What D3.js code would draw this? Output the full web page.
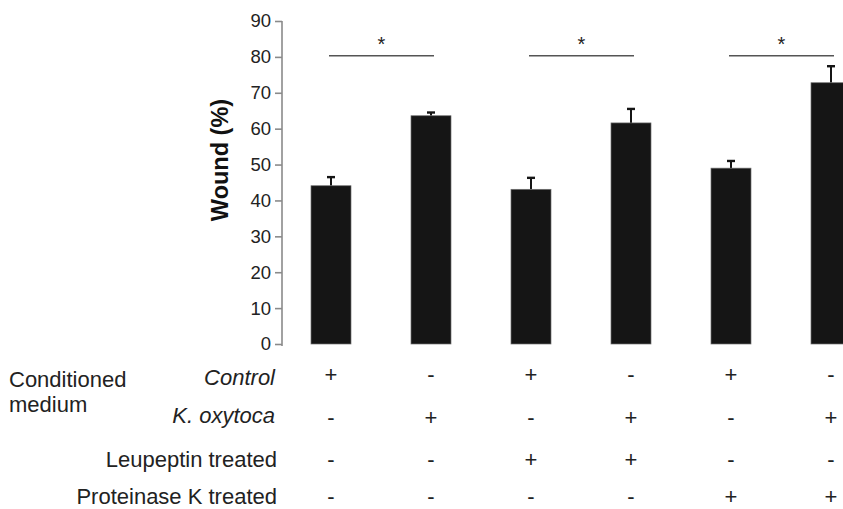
<!DOCTYPE html>
<html>
<head>
<meta charset="utf-8">
<script src="https://cdn.jsdelivr.net/npm/d3@7"></script>
<style>
  body { margin: 0; background: #fff; }
  svg { display: block; font-family: "Liberation Sans", Arial, sans-serif; }
</style>
</head>
<body>
<div id="chart"></div>
<script>
/*
 * Data
 *****************************/
const groups = ["c1", "c2", "c3", "c4", "c5", "c6"];
const wound = [44.1, 63.6, 43.1, 61.6, 49.0, 72.8];
const woundErr = [2.4, 0.9, 3.2, 3.9, 2.0, 4.6];
const sigPairs = [[0, 1], [2, 3], [4, 5]];
const sigLevel = 80.3;
const yTicks = [0, 10, 20, 30, 40, 50, 60, 70, 80, 90];

const rowLabels = ["Control", "K. oxytoca", "Leupeptin treated", "Proteinase K treated"];
const controlRow = ["+", "-", "+", "-", "+", "-"];
const oxytocaRow = ["-", "+", "-", "+", "-", "+"];
const leupeptinRow = ["-", "-", "+", "+", "-", "-"];
const proteinaseRow = ["-", "-", "-", "-", "+", "+"];

/*
 * Parameters
 *****************************/
const width = 843, height = 509;
const axisX = 282, yTop = 21, yBottom = 344;

const svg = d3.select("#chart").append("svg")
  .attr("width", width)
  .attr("height", height);

const x = d3.scaleBand()
  .domain(groups)
  .range([281, 881])
  .paddingInner(0.6)
  .paddingOuter(0.3);

const y = d3.scaleLinear()
  .domain([0, 90])
  .range([yBottom, yTop]);

const cx = i => x(groups[i]) + x.bandwidth() / 2;

// y axis
const yAxis = d3.axisLeft(y).tickValues(yTicks).tickSize(7).tickPadding(4);
const axisG = svg.append("g")
  .attr("transform", `translate(${axisX},0)`)
  .call(yAxis);
axisG.select(".domain").attr("stroke", "#8a8a8a").attr("stroke-width", 1.6)
  .attr("d", `M0,${yTop}V${yBottom + 2}`);
axisG.selectAll(".tick line").attr("stroke", "#8a8a8a").attr("stroke-width", 1.6);
axisG.selectAll(".tick text")
  .attr("fill", "#222")
  .style("font-size", "18.5px")
  .style("font-family", "'Liberation Sans', Arial, sans-serif");

// axis title, a bit above the axis middle like the original
svg.append("text")
  .attr("transform", "translate(228,160) rotate(-90)")
  .attr("text-anchor", "middle")
  .style("font-size", "23.5px")
  .style("font-weight", "bold")
  .attr("fill", "#111")
  .text("Wound (%)");

// error bars (behind bars)
const errG = svg.append("g").attr("stroke", "#151515").attr("stroke-width", 2);
wound.forEach((v, i) => {
  errG.append("line")
    .attr("x1", cx(i)).attr("x2", cx(i))
    .attr("y1", y(v)).attr("y2", y(v + woundErr[i]));
  errG.append("line")
    .attr("x1", cx(i) - 4).attr("x2", cx(i) + 4)
    .attr("y1", y(v + woundErr[i])).attr("y2", y(v + woundErr[i]))
    .attr("stroke-width", 2.4);
});

// bars
svg.append("g").selectAll("rect")
  .data(wound)
  .enter()
  .append("rect")
  .attr("x", (d, i) => x(groups[i]))
  .attr("y", d => y(d))
  .attr("width", x.bandwidth())
  .attr("height", d => y(0) - y(d))
  .attr("fill", "#151515")
  .attr("stroke", "#6f6f6f")
  .attr("stroke-width", 0.7);

// significance lines + stars
const sigG = svg.append("g");
sigPairs.forEach(p => {
  const x1 = cx(p[0]) - 2, x2 = cx(p[1]) + 3;
  sigG.append("line")
    .attr("x1", x1).attr("x2", x2)
    .attr("y1", y(sigLevel)).attr("y2", y(sigLevel))
    .attr("stroke", "#555").attr("stroke-width", 1.4);
  sigG.append("text")
    .attr("x", (x1 + x2) / 2)
    .attr("y", y(sigLevel) - 5)
    .attr("text-anchor", "middle")
    .style("font-size", "20px")
    .attr("fill", "#222")
    .text("*");
});

// condition table
const rows = [controlRow, oxytocaRow, leupeptinRow, proteinaseRow];
const labelBase = [385, 423, 467, 504];
const signBase = [382, 425, 467, 504];

const tableG = svg.append("g").style("font-size", "22px").attr("fill", "#222");

tableG.append("text").attr("x", 9).attr("y", 387).text("Conditioned");
tableG.append("text").attr("x", 9).attr("y", 412).text("medium");

rowLabels.forEach((lab, r) => {
  tableG.append("text")
    .attr("x", r < 2 ? 275 : 277)
    .attr("y", labelBase[r])
    .attr("text-anchor", "end")
    .style("font-style", r < 2 ? "italic" : "normal")
    .text(lab);

  tableG.selectAll(null)
    .data(rows[r])
    .enter()
    .append("text")
    .attr("x", (d, i) => cx(i))
    .attr("y", signBase[r])
    .attr("text-anchor", "middle")
    .style("font-size", "22px")
    .text(d => d);
});
</script>
</body>
</html>
